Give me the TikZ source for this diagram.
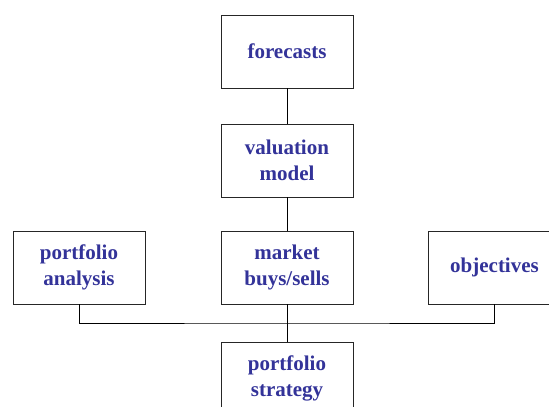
\documentclass[tikz,border=0pt]{standalone}
\usepackage{fontspec}
\setmainfont{Liberation Serif}
\usepackage{tikz}
\usetikzlibrary{positioning}
\definecolor{labelblue}{RGB}{51,51,153}

\begin{document}
\begin{tikzpicture}[
  x=1pt,y=-1pt,
  font=\fontsize{21}{26}\selectfont\bfseries,
  stagebox/.style={rectangle,draw=black!85,line width=0.9pt,fill=white,
    minimum width=132pt,minimum height=73pt,inner sep=0pt,align=center,text=labelblue},
  link/.style={draw=black,line width=0.8pt}
]
\useasboundingbox (0,0) rectangle (549,407);
% central column
\node[stagebox] (fc) at (287,51.5) {forecasts};
\node[stagebox] (vm) at (287,160.5) {valuation\\model};
\node[stagebox] (mk) at (287,267.5) {market\\buys/sells};
\node[stagebox] (ps) at (287,378.5) {portfolio\\strategy};
% side inputs
\node[stagebox] (pa) at (79,267.5) {portfolio\\analysis};
\node[stagebox] (ob) at (494.5,267.5) {objectives};
% connectors
\coordinate (jn) at (287,323);
\draw[link] (fc) -- (vm);
\draw[link] (vm) -- (mk);
\draw[link] (mk) -- (ps);
\draw[link] (pa.south) |- (jn) -| (ob.south);
\end{tikzpicture}
\end{document}
